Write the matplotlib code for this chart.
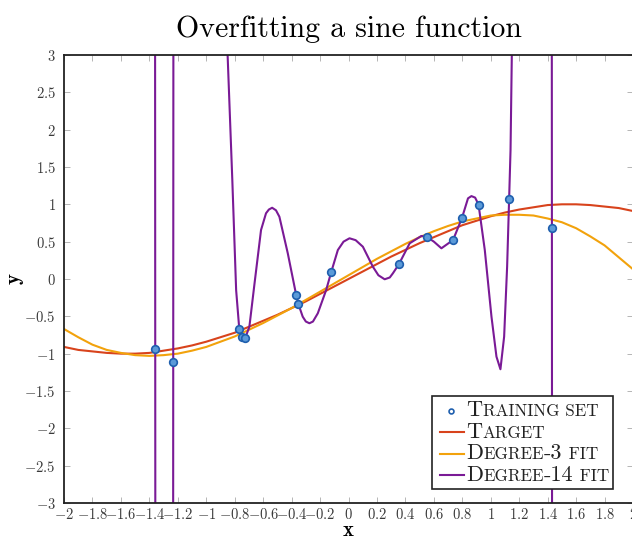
import numpy as np
import matplotlib
matplotlib.use('Agg')
import matplotlib.pyplot as plt
from matplotlib.lines import Line2D
from matplotlib.offsetbox import AnchoredOffsetbox, HPacker, VPacker, TextArea, DrawingArea

plt.rcParams['mathtext.fontset'] = 'cm'
plt.rcParams['axes.formatter.use_mathtext'] = True

# training samples
train_x = [-1.359, -1.232, -0.768, -0.749, -0.725, -0.368, -0.352, -0.122,
           0.354, 0.549, 0.735, 0.798, 0.914, 1.129, 1.43]
train_y = [-0.937, -1.107, -0.669, -0.772, -0.785, -0.214, -0.339, 0.09,
           0.197, 0.566, 0.522, 0.82, 0.997, 1.067, 0.679]

# curves sampled on a 0.1 grid
grid_x = [-2.0, -1.9, -1.8, -1.7, -1.6, -1.5, -1.4, -1.3, -1.2, -1.1, -1.0,
          -0.9, -0.8, -0.7, -0.6, -0.5, -0.4, -0.3, -0.2, -0.1, 0.0,
          0.1, 0.2, 0.3, 0.4, 0.5, 0.6, 0.7, 0.8, 0.9, 1.0,
          1.1, 1.2, 1.3, 1.4, 1.5, 1.6, 1.7, 1.8, 1.9, 2.0]
target_y = [-0.91, -0.95, -0.97, -0.99, -1.0, -1.0, -0.99, -0.96, -0.93, -0.89, -0.84,
            -0.78, -0.72, -0.64, -0.56, -0.48, -0.39, -0.30, -0.20, -0.10, 0.0,
            0.10, 0.20, 0.30, 0.39, 0.48, 0.56, 0.64, 0.72, 0.78, 0.84,
            0.89, 0.93, 0.96, 0.99, 1.0, 1.0, 0.99, 0.97, 0.95, 0.91]
deg3_y = [-0.67, -0.78, -0.88, -0.95, -0.99, -1.02, -1.03, -1.02, -1.0, -0.96, -0.91,
          -0.84, -0.77, -0.68, -0.59, -0.49, -0.39, -0.28, -0.17, -0.06, 0.05,
          0.16, 0.27, 0.37, 0.47, 0.56, 0.64, 0.71, 0.77, 0.81, 0.85,
          0.86, 0.86, 0.85, 0.81, 0.76, 0.68, 0.57, 0.45, 0.29, 0.13]

# degree-14 fit, goes far off scale (+-8 stands for "off the chart")
deg14_x = [-2.0, -1.361, -1.357, -1.234, -1.230, -0.87, -0.85, -0.817, -0.79,
           -0.768, -0.749, -0.735, -0.725, -0.697, -0.662, -0.615, -0.58, -0.56,
           -0.537, -0.51, -0.486, -0.427, -0.368, -0.352, -0.322, -0.30, -0.275,
           -0.25, -0.216, -0.157, -0.122, -0.075, -0.035, 0.007, 0.05, 0.101,
           0.171, 0.21, 0.254, 0.29, 0.312, 0.354, 0.43, 0.512, 0.549, 0.6,
           0.653, 0.735, 0.798, 0.84, 0.864, 0.89, 0.914, 0.958, 1.005, 1.04,
           1.068, 1.094, 1.115, 1.129, 1.139, 1.148, 1.16, 1.428, 1.432, 2.0]
deg14_y = [8, 8, -8, -8, 8, 8, 3.0, 1.33, -0.15,
           -0.669, -0.772, -0.79, -0.785, -0.64, -0.08, 0.656, 0.88, 0.93,
           0.954, 0.92, 0.834, 0.344, -0.214, -0.339, -0.505, -0.57, -0.593,
           -0.57, -0.46, -0.147, 0.09, 0.388, 0.50, 0.545, 0.52, 0.432,
           0.165, 0.05, -0.004, 0.02, 0.076, 0.197, 0.478, 0.576, 0.566, 0.50,
           0.411, 0.522, 0.82, 1.08, 1.11, 1.09, 0.997, 0.388, -0.505, -1.04,
           -1.209, -0.772, 0.165, 1.067, 1.727, 3.0, 8, 8, -8, -8]

x_ticks = [-2, -1.8, -1.6, -1.4, -1.2, -1, -0.8, -0.6, -0.4, -0.2, 0,
           0.2, 0.4, 0.6, 0.8, 1, 1.2, 1.4, 1.6, 1.8, 2]
y_ticks = [-3, -2.5, -2, -1.5, -1, -0.5, 0, 0.5, 1, 1.5, 2, 2.5, 3]

c_target = '#d8431c'
c_deg3 = '#f2a20c'
c_deg14 = '#7a1a96'
c_pts_face = '#5b9ad8'
c_pts_edge = '#1f5fae'

fig = plt.figure(figsize=(6.32, 5.38), dpi=100)
ax = fig.add_axes([0.1013, 0.0651, 0.9003, 0.8327])

ax.plot(grid_x, target_y, color=c_target, lw=1.5)
ax.plot(grid_x, deg3_y, color=c_deg3, lw=1.5)
ax.plot(deg14_x, deg14_y, color=c_deg14, lw=1.5)
ax.plot(train_x, train_y, 'o', ms=5.5, mfc=c_pts_face, mec=c_pts_edge, mew=1.2)

ax.set_xlim(-2, 2)
ax.set_ylim(-3, 3)
ax.set_xticks(x_ticks)
ax.set_yticks(y_ticks)
ax.set_xticklabels(['$%g$' % v for v in x_ticks])
ax.set_yticklabels(['$%g$' % v for v in y_ticks])
ax.tick_params(direction='in', length=4, width=0.6, color='#aaaaaa',
               labelsize=10.5, labelcolor='#3a3a3a', top=True, right=True)
ax.tick_params(axis='x', pad=3)
ax.tick_params(axis='y', pad=6)
for s in ax.spines.values():
    s.set_color('#222222')
    s.set_linewidth(1.3)

ax.set_title('Overfitting a sine function', fontfamily='cmr10', fontsize=21.5, pad=13)
ax.set_xlabel('x', fontfamily='cmb10', fontsize=15)
ax.set_ylabel('y', fontfamily='cmb10', fontsize=15)
ax.xaxis.label.set_va('center')
ax.yaxis.label.set_va('center')
ax.xaxis.set_label_coords(0.5, -0.061)
ax.yaxis.set_label_coords(-0.088, 0.5)


# legend with small caps made of two font sizes
def sc_row(handle, pieces):
    parts = [handle]
    for txt, big in pieces:
        parts.append(TextArea(txt, textprops=dict(fontfamily='cmr10',
                                                  fontsize=16 if big else 12.3,
                                                  color='#222222')))
    return HPacker(children=parts, align='baseline', pad=0, sep=0)


def line_handle(color):
    da = DrawingArea(22, 10, 0, 0)
    da.add_artist(Line2D([3, 20], [4, 4], color=color, lw=1.5))
    return da


def marker_handle():
    da = DrawingArea(22, 10, 0, 0)
    da.add_artist(Line2D([11], [4], marker='o', ms=3.5, mfc='white',
                         mec=c_pts_edge, mew=1.2))
    return da


rows = [
    sc_row(marker_handle(), [('T', True), ('RAINING SET', False)]),
    sc_row(line_handle(c_target), [('T', True), ('ARGET', False)]),
    sc_row(line_handle(c_deg3), [('D', True), ('EGREE', False), ('-3', True), (' FIT', False)]),
    sc_row(line_handle(c_deg14), [('D', True), ('EGREE', False), ('-14', True), (' FIT', False)]),
]
box = VPacker(children=rows, align='left', pad=0, sep=1.5)
leg = AnchoredOffsetbox(loc='lower right', child=box, pad=0.3, borderpad=0,
                        frameon=True, bbox_to_anchor=(0.965, 0.031),
                        bbox_transform=ax.transAxes)
leg.patch.set_edgecolor('#222222')
leg.patch.set_linewidth(1.2)
ax.add_artist(leg)

fig.savefig('out.png', dpi=100)
